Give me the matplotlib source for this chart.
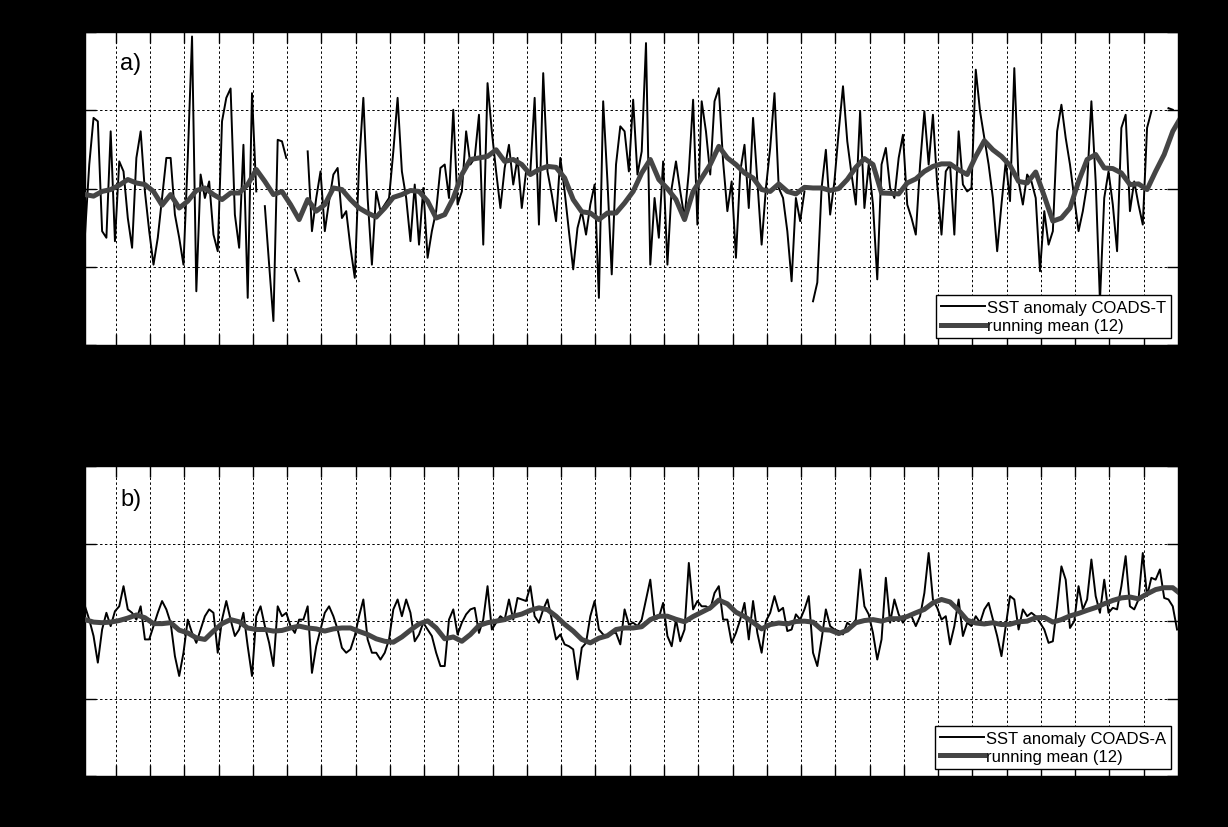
import numpy as np
import matplotlib.pyplot as plt

plt.rcParams['font.family'] = ['Liberation Sans', 'DejaVu Sans']

nan = np.nan
t_start = 1970.1
years = list(range(1971, 2002))
yticks = [-5, -2.5, 0, 2.5, 5]

# monthly-ish samples (8 per year), panel a
sst_a = [
    -1.47, 0.77, 2.26, 2.15, -1.36, -1.57, 1.83, -1.68,
    0.87, 0.55, -0.94, -1.89, 0.98, 1.83, -0.10, -1.36,
    -2.43, -1.57, -0.30, 0.98, 0.98, -0.83, -1.57, -2.43,
    0.98, 4.86, -3.28, 0.45, -0.30, 0.23, -1.47, -2.00,
    2.15, 2.90, 3.20, -0.83, -1.89, 1.40, -3.49, 3.05,
    -0.09, nan, -0.56, -2.43, -4.23, 1.56, 1.51, 0.98,
    nan, -2.58, -2.96, nan, 1.19, -1.36, -0.30, 0.55,
    -1.36, -0.40, 0.45, 0.66, -0.94, -0.72, -1.89, -2.85,
    0.77, 2.90, -0.30, -2.43, -0.09, -0.72, -0.51, -0.30,
    1.19, 2.90, 0.55, -0.30, -1.68, 0.13, -1.79, 0.02,
    -2.21, -1.36, -0.72, 0.66, 0.77, -0.30, 2.52, -0.51,
    -0.09, 1.83, 0.77, 0.98, 2.36, -1.79, 3.37, 1.83,
    0.55, -0.62, 0.66, 1.40, 0.13, 0.98, -0.62, 0.55,
    0.55, 2.90, -1.15, 3.69, 0.55, -0.19, -1.04, 0.98,
    -0.09, -1.36, -2.58, -1.26, -0.72, -1.47, -0.51, 0.13,
    -3.49, 2.79, 0.23, -2.74, 0.77, 1.99, 1.83, 0.55,
    2.84, 0.45, 1.19, 4.65, -2.43, -0.30, -1.57, 0.87,
    -2.43, 0.02, 0.87, -0.09, -0.94, 0.55, 2.84, -1.15,
    2.79, 1.83, 0.45, 2.79, 3.21, 0.87, -0.72, 0.23,
    -2.21, 0.55, 1.40, -0.62, 2.26, 0.23, -1.79, 0.02,
    1.30, 3.05, 0.02, -0.30, -1.36, -2.96, -0.30, -1.04,
    -0.09, nan, -3.60, -3.00, 0.02, 1.24, -0.83, 0.23,
    1.83, 3.27, 1.51, 0.45, -0.51, 2.47, -0.62, 0.77,
    -0.51, -2.90, 0.77, 1.30, 0.02, -0.30, 0.98, 1.72,
    -0.51, -0.94, -1.47, 0.77, 2.47, 0.77, 2.36, 0.13,
    -1.47, 0.55, 0.77, -1.47, 1.83, 0.13, -0.09, 0.02,
    3.80, 2.47, 1.62, 0.77, -0.30, -2.00, -0.51, 0.87,
    -0.40, 3.85, 0.23, -0.51, 0.45, 0.23, -0.30, -2.64,
    -0.72, -1.79, -1.36, 1.83, 2.68, 1.62, 0.77, -0.30,
    -1.36, -0.72, 0.13, 2.79, 0.23, -3.60, -0.30, 0.55,
    -0.51, -2.00, 1.94, 2.36, -0.72, 0.23, -0.51, -1.15,
    1.94, 2.47, nan, nan, nan, 2.57, 2.52, nan,
]

# running mean, 4 samples per year, panel a
mean_a = [
    -0.19, -0.24, -0.09, -0.03, 0.11, 0.29, 0.18, 0.13,
    -0.09, -0.53, -0.19, -0.62, -0.40, -0.06, 0.02, -0.19,
    -0.35, -0.14, -0.14, 0.13, 0.61, 0.23, -0.19, -0.09,
    -0.51, -0.99, -0.35, -0.72, -0.51, 0.02, -0.03, -0.35,
    -0.62, -0.78, -0.91, -0.62, -0.28, -0.19, -0.06, -0.09,
    -0.40, -0.94, -0.83, -0.30, 0.45, 0.93, 0.98, 1.03,
    1.24, 0.87, 0.93, 0.77, 0.45, 0.61, 0.71, 0.68,
    0.34, -0.35, -0.74, -0.78, -0.99, -0.78, -0.78, -0.46,
    -0.09, 0.50, 0.93, 0.29, 0.00, -0.35, -0.99, -0.09,
    0.34, 0.77, 1.35, 0.98, 0.77, 0.50, 0.34, -0.03,
    -0.09, 0.15, -0.09, -0.17, 0.04, 0.02, 0.02, -0.06,
    0.00, 0.29, 0.68, 0.96, 0.77, -0.14, -0.15, -0.17,
    0.18, 0.31, 0.55, 0.71, 0.79, 0.79, 0.60, 0.45,
    1.03, 1.53, 1.24, 1.03, 0.74, 0.23, 0.18, 0.53,
    -0.24, -1.04, -0.94, -0.62, 0.23, 0.93, 1.09, 0.66,
    0.64, 0.50, 0.13, 0.15, -0.03, 0.55, 1.09, 1.83,
    2.30,
]

# panel b
sst_b = [
    0.48, 0.05, -0.48, -1.34, -0.27, 0.27, -0.16, 0.32,
    0.48, 1.13, 0.38, 0.27, 0.05, 0.48, -0.59, -0.59,
    -0.16, 0.27, 0.65, 0.38, -0.05, -1.13, -1.77, -1.02,
    0.05, -0.38, -0.70, -0.27, 0.16, 0.38, 0.27, -1.02,
    0.05, 0.65, 0.05, -0.48, -0.27, 0.27, -0.81, -1.77,
    0.16, 0.48, -0.16, -0.70, -1.45, 0.48, 0.16, 0.27,
    -0.16, -0.38, 0.05, 0.05, 0.48, -1.67, -0.81, -0.27,
    0.27, 0.48, 0.16, -0.27, -0.86, -1.02, -0.91, -0.48,
    0.16, 0.70, -0.59, -1.02, -1.02, -1.24, -1.02, -0.59,
    0.38, 0.70, 0.16, 0.70, 0.27, -0.65, -0.43, -0.05,
    -0.27, -0.48, -1.02, -1.45, -1.45, 0.05, 0.38, -0.43,
    -0.05, 0.22, 0.38, 0.43, -0.38, 0.05, 1.13, -0.27,
    -0.05, 0.16, 0.05, 0.70, 0.05, 0.75, 0.70, 0.65,
    1.13, 0.16, -0.05, 0.38, 0.70, 0.05, -0.59, -0.43,
    -0.75, -0.81, -0.91, -1.88, -0.86, -0.70, 0.16, 0.65,
    -0.27, -0.43, -0.48, -0.38, -0.38, -0.75, 0.38, -0.11,
    -0.05, -0.16, 0.05, 0.70, 1.34, 0.05, 0.11, 0.59,
    -0.48, -0.81, 0.05, -0.65, -0.27, 1.88, 0.38, 0.65,
    0.48, 0.48, 0.38, 0.91, 1.13, 0.05, 0.05, -0.70,
    -0.38, 0.05, 0.59, -0.59, 0.65, -0.38, -1.02, 0.00,
    0.27, 0.81, 0.32, 0.43, -0.32, -0.27, 0.22, 0.05,
    0.38, 0.81, -1.02, -1.45, -0.59, 0.38, -0.16, -0.27,
    -0.32, -0.43, -0.05, -0.16, 0.05, 1.67, 0.48, 0.22,
    -0.38, -1.24, -0.59, 1.40, -0.05, 0.70, 0.22, -0.05,
    0.16, 0.16, -0.16, 0.16, 0.91, 2.20, 0.70, 0.43,
    0.05, 0.16, -0.75, -0.16, 0.70, -0.48, -0.05, -0.16,
    0.16, -0.05, 0.38, 0.59, 0.05, -0.48, -1.13, -0.16,
    0.81, 0.70, -0.27, 0.38, 0.16, 0.27, 0.16, -0.05,
    -0.27, -0.70, -0.65, 0.48, 1.77, 1.34, -0.22, 0.00,
    1.13, 0.38, 0.70, 1.99, 0.81, 0.27, 1.34, 0.27,
    0.43, 0.38, 1.13, 2.10, 0.48, 0.38, 0.70, 2.20,
    0.81, 1.40, 1.34, 1.67, 0.75, 0.70, 0.48, -0.27,
]

mean_b = [
    0.05, -0.03, -0.05, -0.03, 0.02, 0.10, 0.20, 0.11,
    -0.08, -0.08, -0.05, -0.29, -0.38, -0.54, -0.59, -0.32,
    -0.08, 0.05, -0.02, -0.22, -0.27, -0.27, -0.32, -0.30,
    -0.22, -0.16, -0.22, -0.25, -0.32, -0.25, -0.22, -0.22,
    -0.33, -0.43, -0.57, -0.65, -0.68, -0.51, -0.29, -0.09,
    0.01, -0.22, -0.57, -0.51, -0.65, -0.43, -0.14, -0.05,
    0.00, 0.05, 0.16, 0.23, 0.35, 0.43, 0.37, 0.16,
    -0.10, -0.32, -0.59, -0.70, -0.55, -0.47, -0.27, -0.22,
    -0.22, -0.18, 0.05, 0.16, 0.16, 0.06, -0.02, 0.15,
    0.29, 0.43, 0.68, 0.56, 0.29, 0.15, -0.04, -0.25,
    -0.11, -0.06, -0.09, -0.01, 0.00, -0.03, -0.27, -0.29,
    -0.40, -0.29, -0.05, 0.02, 0.05, 0.00, 0.08, 0.08,
    0.15, 0.27, 0.38, 0.59, 0.70, 0.62, 0.35, 0.03,
    -0.06, -0.09, -0.05, -0.11, -0.10, -0.02, 0.00, 0.11,
    0.12, -0.03, 0.05, 0.17, 0.25, 0.35, 0.44, 0.56,
    0.67, 0.75, 0.78, 0.72, 0.88, 1.02, 1.08, 1.08,
    0.86,
]

t = t_start + np.arange(len(sst_a)) / 8.0
tm = t_start + np.arange(len(mean_a)) / 4.0

fig = plt.figure(figsize=(12.28, 8.28), dpi=100, facecolor='black')
ax_a = fig.add_axes([0.0692, 0.582, 0.890, 0.378])
ax_b = fig.add_axes([0.0692, 0.0616, 0.890, 0.374])

panels = [
    (ax_a, sst_a, mean_a, 'SST anomaly COADS-T', 'a)', 0.90),
    (ax_b, sst_b, mean_b, 'SST anomaly COADS-A', 'b)', 0.894),
]

for ax, sst, rm, lab, tag, ty in panels:
    ax.set_facecolor('white')
    ax.plot(t, sst, color='black', lw=1.4, label=lab, zorder=3)
    ax.plot(tm, rm, color='#454545', lw=3.6, label='running mean (12)', zorder=4)
    ax.set_xlim(t_start, 2002)
    ax.set_ylim(-5, 5)
    ax.set_xticks(years)
    ax.set_xticklabels([str(y) for y in years], fontsize=8, color='black')
    ax.set_yticks(yticks)
    ax.set_yticklabels(['-5', '-2.5', '0', '2.5', '5'], fontsize=9, color='black')
    ax.grid(True, linestyle=(0, (2.5, 2.5)), color='black', linewidth=0.7)
    ax.tick_params(direction='in', length=8, top=True, right=True,
                   color='black', width=1)
    for s in ax.spines.values():
        s.set_color('black')
        s.set_linewidth(1)
    ax.text(0.032, ty, tag, transform=ax.transAxes, fontsize=17,
            va='center', ha='left', zorder=5)
    leg = ax.legend(loc='lower right', fontsize=12, frameon=True,
                    fancybox=False, edgecolor='black', framealpha=1,
                    handlelength=2.6, handletextpad=0.15, borderpad=0.3,
                    labelspacing=0.2, borderaxespad=0.4)
    leg.get_frame().set_linewidth(1)
    leg.set_zorder(6)

ax_a.set_ylabel('°C', color='black', fontsize=10)

fig.savefig('out.png', dpi=100, facecolor='black')
